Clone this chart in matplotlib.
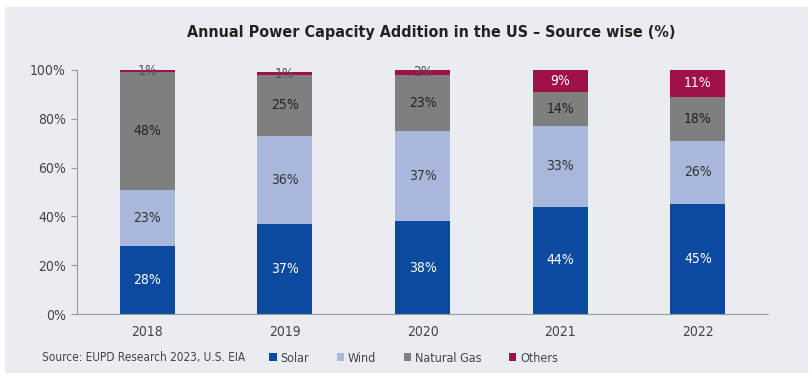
import matplotlib
matplotlib.use("Agg")
import matplotlib.pyplot as plt
from matplotlib.patches import Rectangle, Patch
import numpy as np

plt.rcParams['font.family'] = ['DejaVu Sans']
plt.rcParams['font.stretch'] = 'condensed'

# data
years = ['2018', '2019', '2020', '2021', '2022']
solar = [28, 37, 38, 44, 45]
wind = [23, 36, 37, 33, 26]
gas = [48, 25, 23, 14, 18]
others = [1, 1, 2, 9, 11]

series = [('Solar', solar, '#0b4a9e', 'white'),
          ('Wind', wind, '#a9b8da', '#333333'),
          ('Natural Gas', gas, '#7f7f7f', '#222222'),
          ('Others', others, '#9e1149', 'white')]

fig = plt.figure(figsize=(8.12, 3.77), dpi=100)
fig.patch.set_facecolor('white')
# light panel behind everything
fig.patches.append(Rectangle((5/812, 1-373/377), 803/812, 366/377,
                             transform=fig.transFigure, facecolor='#e9edf2',
                             edgecolor='none', zorder=-10))

ax = fig.add_axes([77/812, 1-314/377, 691/812, 244/377])
ax.set_facecolor('none')

x = np.arange(len(years))
bottom = np.zeros(len(years))
for name, vals, col, tcol in series:
    vals = np.array(vals)
    ax.bar(x, vals, 0.4, bottom=bottom, color=col, label=name, zorder=2)
    for xi, b, v in zip(x, bottom, vals):
        c = tcol
        if v < 5:
            c = '#555555'
        ax.text(xi, b + v/2, f'{v}%', ha='center', va='center',
                fontsize=10, color=c, zorder=3)
    bottom += vals

ax.set_xlim(-0.51, len(years) - 0.49)
ax.set_ylim(0, 100)
ax.set_yticks(np.arange(0, 101, 20))
ax.set_yticklabels([f'{v}%' for v in range(0, 101, 20)])
ax.set_xticks(x)
ax.set_xticklabels(years)
ax.tick_params(axis='y', length=4, color='#999999', labelsize=10, labelcolor='#444444', pad=4)
ax.tick_params(axis='x', length=0, labelsize=10, labelcolor='#444444', pad=8)
for s in ['top', 'right']:
    ax.spines[s].set_visible(False)
for s in ['left', 'bottom']:
    ax.spines[s].set_color('#999999')
    ax.spines[s].set_linewidth(0.8)

fig.text(431/812, 1-33/377, 'Annual Power Capacity Addition in the US \u2013 Source wise (%)',
         ha='center', va='center', fontsize=11.5, fontweight='bold', color='#222222')

fig.text(42/812, 1-358/377, 'Source: EUPD Research 2023, U.S. EIA', ha='left', va='center',
         fontsize=8.5, color='#444444')

handles = [Patch(facecolor=c, edgecolor='none', label=n) for n, _, c, _ in series]
fig.legend(handles=handles, loc='center left', bbox_to_anchor=(258/812, 1-358/377),
           ncol=4, frameon=False, fontsize=9, handlelength=0.6, handleheight=0.6,
           handletextpad=0.3, columnspacing=2.2, labelcolor='#444444')

fig.savefig('out.png', dpi=100, facecolor='white')
